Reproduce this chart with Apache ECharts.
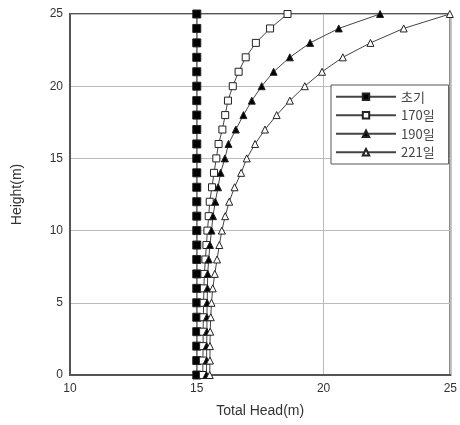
<!DOCTYPE html>
<html><head><meta charset="utf-8">
<script src="https://cdn.jsdelivr.net/npm/echarts@6/dist/echarts.min.js"></script>
<style>html,body{margin:0;padding:0;background:#fff}#c{width:460px;height:425px}</style>
</head><body><div id="c"></div>
<script>
const heights = [0,1,2,3,4,5,6,7,8,9,10,11,12,13,14,15,16,17,18,19,20,21,22,23,24,25];
const seriesNames = ['초기','170일','190일','221일'];
const head0 = [15,15,15,15,15,15,15,15,15,15,15,15,15,15,15,15,15,15,15,15,15,15,15,15,15,15];
const head170 = [15.24,15.24,15.25,15.25,15.26,15.27,15.28,15.30,15.34,15.38,15.42,15.47,15.51,15.60,15.68,15.77,15.86,16.01,16.12,16.23,16.42,16.65,16.93,17.33,17.89,18.58];
const head190 = [15.38,15.39,15.39,15.40,15.40,15.41,15.42,15.43,15.47,15.52,15.58,15.64,15.73,15.84,15.94,16.11,16.25,16.54,16.84,17.17,17.56,18.03,18.67,19.47,20.60,22.23];
const head221 = [15.51,15.52,15.52,15.53,15.55,15.58,15.63,15.71,15.80,15.89,15.99,16.12,16.28,16.49,16.75,16.97,17.30,17.69,18.15,18.67,19.26,19.94,20.76,21.85,23.16,24.98];
const xTicks = [10,15,20,25];
const yTicks = [0,5,10,15,20,25];

function pairs(xs){ return xs.map((v,i)=>[v, heights[i]]); }
const chart = echarts.init(document.getElementById('c'));
const lineCol = '#222';
function mk(name, data, symbol, size, fill){
  return {name, type:'line', data:pairs(data), symbol, symbolSize:size,
    lineStyle:{color:'#444', width:1}, itemStyle:{color:fill, borderColor:lineCol, borderWidth:1},
    emphasis:{disabled:true}, animation:false, z:2};
}
chart.setOption({
  animation:false,
  grid:{left:70, right:7, top:14, bottom:50, show:true, borderColor:'#555', borderWidth:2},
  legend:{
    data:seriesNames, orient:'vertical', left:331, top:85,
    itemWidth:60, itemHeight:8, itemGap:5,
    borderColor:'#555', borderWidth:1, padding:[5,14,5,4],
    backgroundColor:'#fff',
    textStyle:{fontFamily:'Noto Sans CJK KR, Liberation Sans', fontSize:13, color:'#444', lineHeight:13.5}
  },
  xAxis:{type:'value', min:10, max:25, interval:5, name:'Total Head(m)', nameLocation:'middle', nameGap:29,
    nameTextStyle:{fontFamily:'Liberation Sans', fontSize:14, color:'#333'},
    axisLine:{lineStyle:{color:'#555', width:2}}, axisTick:{show:false},
    axisLabel:{fontFamily:'Liberation Sans', fontSize:12, color:'#333', margin:8},
    splitLine:{lineStyle:{color:'#bbb', width:1}}},
  yAxis:{type:'value', min:0, max:25, interval:5, name:'Height(m)', nameLocation:'middle', nameGap:46,
    nameTextStyle:{fontFamily:'Liberation Sans', fontSize:14, color:'#333'},
    axisLine:{lineStyle:{color:'#555', width:2}}, axisTick:{show:false},
    axisLabel:{fontFamily:'Liberation Sans', fontSize:12, color:'#333', margin:7},
    splitLine:{lineStyle:{color:'#bbb', width:1}}},
  series:[
    mk(seriesNames[0], head0, 'rect', 8, '#000'),
    mk(seriesNames[1], head170, 'rect', 7, '#fff'),
    mk(seriesNames[2], head190, 'triangle', 7, '#000'),
    mk(seriesNames[3], head221, 'triangle', 7, '#fff')
  ]
});
</script></body></html>
